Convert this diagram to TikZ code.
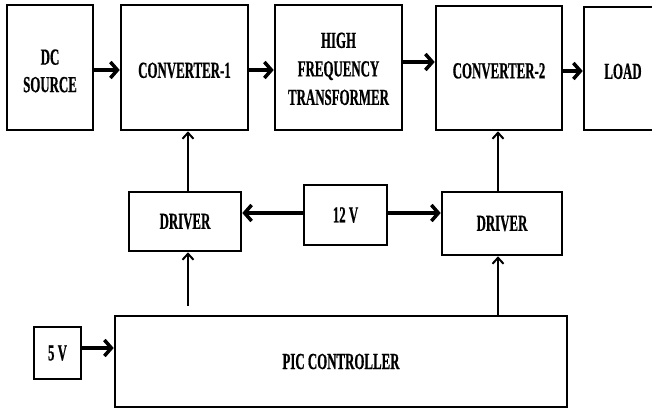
\documentclass[tikz,border=0pt]{standalone}
\usepackage{fontspec}
\setmainfont{Liberation Serif}[FakeStretch=0.56,BoldFeatures={FakeBold=0.6}]
\usetikzlibrary{arrows.meta}
\begin{document}
\begin{tikzpicture}[x=1pt,y=-1pt,
  blk/.style={draw,line width=2.6pt,inner sep=2pt,align=center,
    font=\bfseries\fontsize{23}{27.5}\selectfont},
  lowtext/.style={text height=21pt},
  bigarrow/.style={line width=3.5pt,-{Straight Barb[length=7pt,width=16pt]}},
  smallarrow/.style={line width=2pt,-{Straight Barb[length=6pt,width=11pt]}}]
\useasboundingbox (0,0) rectangle (652,410);
\clip (0,0) rectangle (652,410);
% top row
\node[blk,minimum width=86pt,minimum height=125pt] (dc) at (50,67.5) {\rule{0pt}{22pt}DC\\SOURCE};
\node[blk,lowtext,minimum width=127pt,minimum height=125pt] (conv1) at (184.5,67.5) {CONVERTER-1};
\node[blk,font=\bfseries\fontsize{23}{28.5}\selectfont,minimum width=127pt,minimum height=125pt] (hft) at (338.5,67.5) {\rule{0pt}{18pt}HIGH\\FREQUENCY\\TRANSFORMER};
\node[blk,lowtext,minimum width=126pt,minimum height=124pt] (conv2) at (499,68) {CONVERTER-2};
\node[blk,lowtext,minimum width=78pt,minimum height=123pt] (load) at (623,68.5) {LOAD};
% middle row
\node[blk,minimum width=112pt,minimum height=59pt] (ldrv) at (185,221.5) {DRIVER};
\node[blk,minimum width=83pt,minimum height=60pt] (v12) at (345.5,215) {12 V};
\node[blk,minimum width=120pt,minimum height=63pt] (rdrv) at (502,223.5) {DRIVER};
% bottom row
\node[blk,minimum width=452pt,minimum height=91pt] (pic) at (341,361.5) {PIC CONTROLLER};
\node[blk,minimum width=47pt,minimum height=52pt] (v5) at (57.5,353) {5 V};
% top row arrows
\draw[bigarrow] ([yshift=-2.5pt]dc.east) -- ([yshift=-2.5pt]conv1.west);
\draw[bigarrow] ([yshift=-2.5pt]conv1.east) -- ([yshift=-2.5pt]hft.west);
\draw[bigarrow] ([yshift=5.5pt]hft.east) -- ([yshift=5.5pt]hft.east -| conv2.west);
\draw[bigarrow] ([yshift=-3pt]conv2.east) -- ([yshift=-3pt]conv2.east -| load.west);
% 12V arrows
\draw[bigarrow] ([yshift=2pt]v12.west) -- ([yshift=2pt]v12.west -| ldrv.east);
\draw[bigarrow] ([yshift=2pt]v12.east) -- ([yshift=2pt]v12.east -| rdrv.west);
% 5V arrow
\draw[bigarrow] ([yshift=5pt]v5.east) -- ([yshift=5pt]v5.east -| pic.west);
% vertical links
\draw[smallarrow] ([xshift=3pt]ldrv.north) -- ([xshift=3pt]ldrv.north |- conv1.south);
\draw[smallarrow, shorten <=9pt] ([xshift=3pt]ldrv.south |- pic.north) -- ([xshift=3pt]ldrv.south);
\draw[smallarrow] ([xshift=-4pt]rdrv.north) -- ([xshift=-4pt]rdrv.north |- conv2.south);
\draw[smallarrow] ([xshift=-4pt]rdrv.south |- pic.north) -- ([xshift=-4pt]rdrv.south);
\end{tikzpicture}
\end{document}
